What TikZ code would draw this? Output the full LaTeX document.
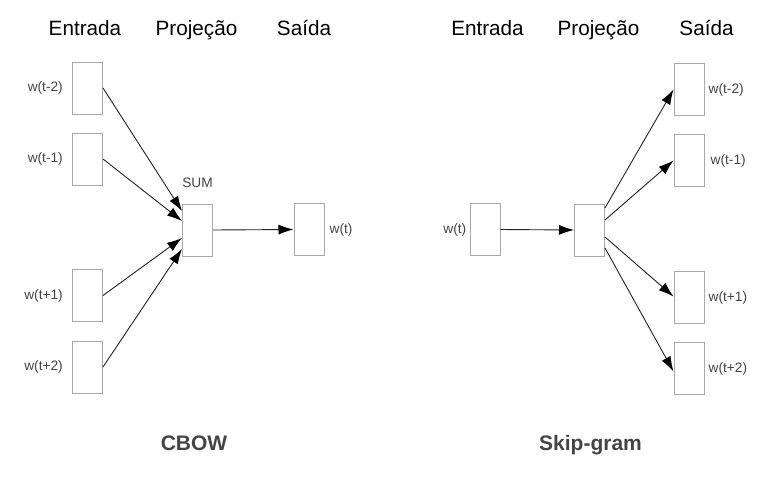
\documentclass[tikz,border=0pt]{standalone}
\usepackage{fontspec}
\setmainfont{Liberation Sans}
\usetikzlibrary{arrows.meta,positioning}
\definecolor{boxgray}{HTML}{A8A8A8}
\definecolor{lblgray}{HTML}{444444}
\definecolor{arrgray}{HTML}{222222}
\begin{document}
\begin{tikzpicture}[x=1pt,y=-1pt,
  wbox/.style={draw=boxgray,line width=1pt,minimum width=30pt,minimum height=52pt,inner sep=0pt,fill=white},
  lbl/.style={text=lblgray,font=\fontsize{13.7}{16}\selectfont,inner sep=0pt},
  hdr/.style={font=\fontsize{20.7}{24}\selectfont,anchor=base,inner sep=0pt},
  ttl/.style={text=lblgray,font=\fontsize{21}{25}\selectfont\bfseries,anchor=base,inner sep=0pt},
  arr/.style={draw=arrgray,line width=0.9pt,-{Latex[length=15pt,width=10pt,color=black]}}]
\useasboundingbox (0,0) rectangle (772,493);
% headers
\node[hdr] (h1) at (85,35) {Entrada};
\node[hdr] (h2) at (196.5,35) {Projeção};
\node[hdr] (h3) at (304,35) {Saída};
\node[hdr] (h4) at (487.5,35) {Entrada};
\node[hdr] (h5) at (598.5,35) {Projeção};
\node[hdr] (h6) at (706.5,35) {Saída};
% CBOW
\node[wbox] (i1) at (87.5,88) {};
\node[wbox] (i2) at (87.5,159) {};
\node[wbox] (i3) at (87.5,295.5) {};
\node[wbox] (i4) at (87.5,367) {};
\node[wbox] (sum) at (197.5,230) {};
\node[wbox] (out) at (309,229.5) {};
\node[lbl,left=9pt of i1] (li1) {w(t-2)};
\node[lbl,left=9pt of i2] (li2) {w(t-1)};
\node[lbl,left=9pt of i3] (li3) {w(t+1)};
\node[lbl,left=9pt of i4] (li4) {w(t+2)};
\node[lbl] (lsum) at (197.5,183) {SUM};
\node[lbl,right=5pt of out] (lout) {w(t)};
\draw[arr] (i1.east) -- ([yshift=19pt]sum.west);
\draw[arr] (i2.east) -- ([yshift=9pt]sum.west);
\draw[arr] (i3.east) -- ([yshift=-8pt]sum.west);
\draw[arr] (i4.east) -- ([yshift=-19pt]sum.west);
\draw[arr] (sum.east) -- (out.west);
\node[ttl] (t1) at (194,450) {CBOW};
% Skip-gram
\node[wbox] (in) at (485,229.5) {};
\node[wbox] (proj) at (589.5,230) {};
\node[wbox] (o1) at (689,89.5) {};
\node[wbox] (o2) at (689,160.5) {};
\node[wbox] (o3) at (689,297.5) {};
\node[wbox] (o4) at (689,368.5) {};
\node[lbl,left=3pt of in] (lin) {w(t)};
\node[lbl,right=4pt of o1] (lo1) {w(t-2)};
\node[lbl,right=6pt of o2] (lo2) {w(t-1)};
\node[lbl,right=4pt of o3] (lo3) {w(t+1)};
\node[lbl,right=4pt of o4] (lo4) {w(t+2)};
\draw[arr] (in.east) -- (proj.west);
\draw[arr] ([yshift=22pt]proj.east) -- (o1.west);
\draw[arr] ([yshift=10pt]proj.east) -- (o2.west);
\draw[arr] ([yshift=-7pt]proj.east) -- ([yshift=1pt]o3.west);
\draw[arr] ([yshift=-18pt]proj.east) -- ([yshift=-3pt]o4.west);
\node[ttl] (t2) at (590.5,450) {Skip-gram};
\end{tikzpicture}
\end{document}
